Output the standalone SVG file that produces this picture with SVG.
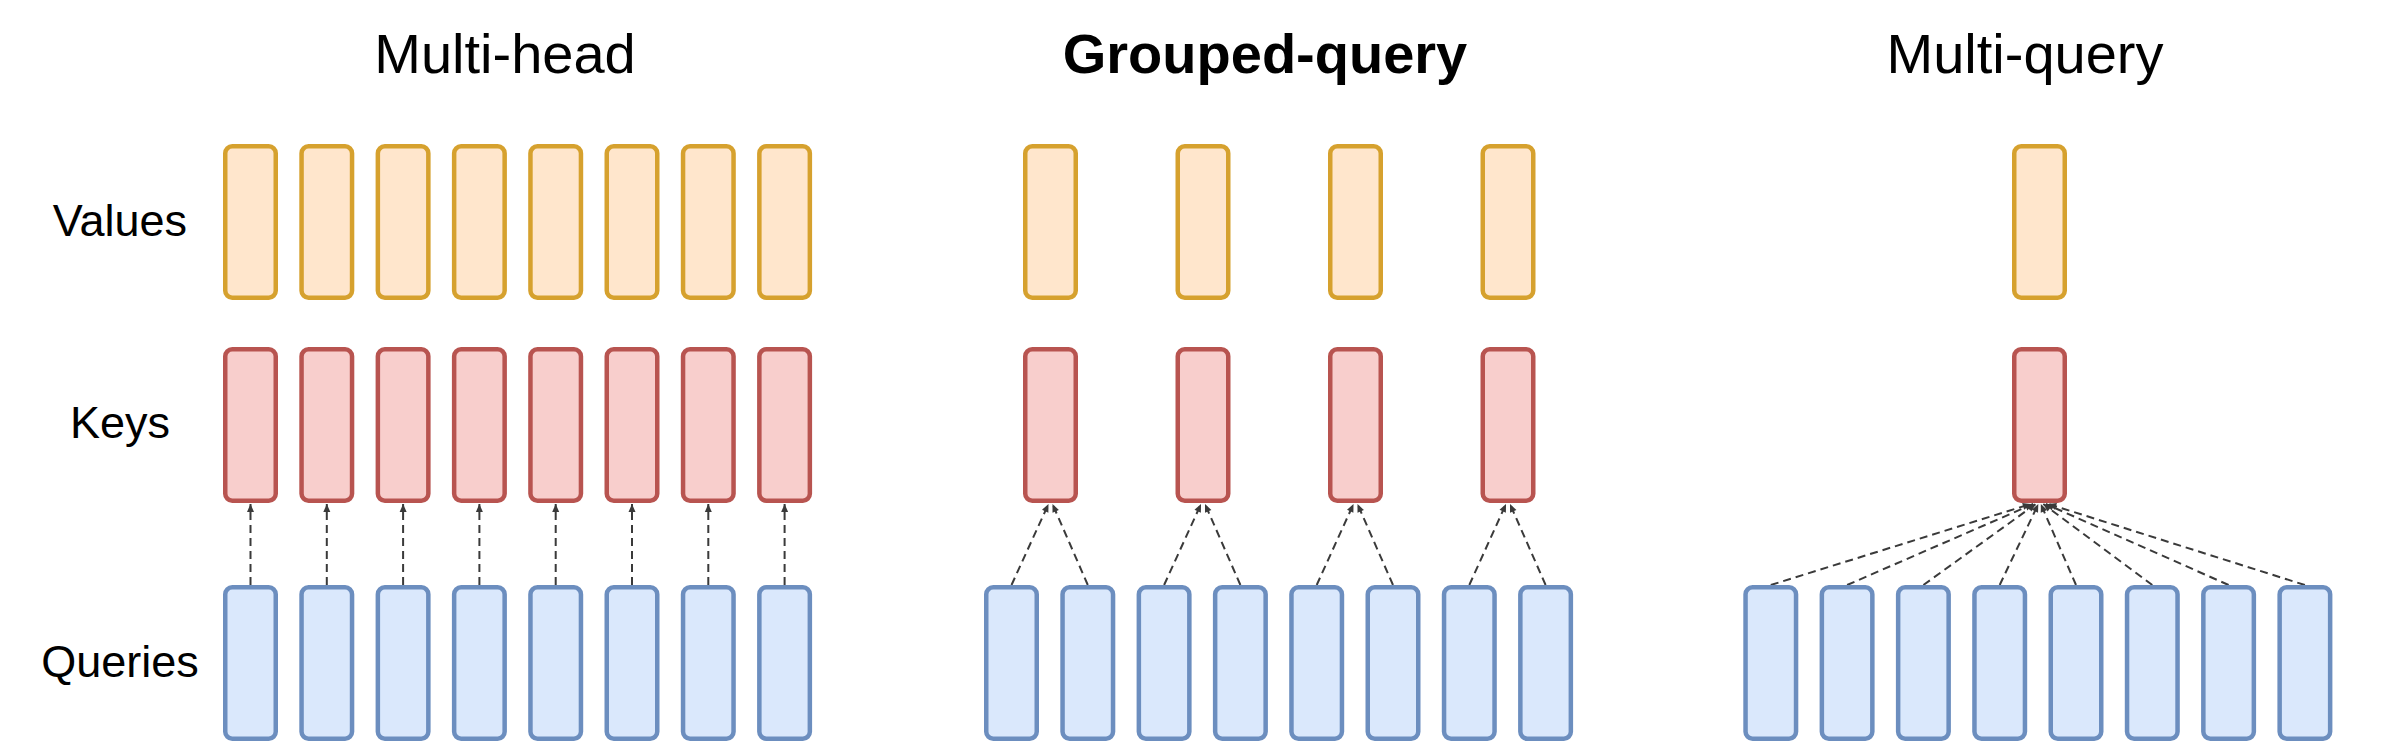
<svg xmlns="http://www.w3.org/2000/svg" width="2384" height="756" viewBox="0 0 2384 756">
<style>
.t{font-family:"Liberation Sans",Arial,sans-serif;font-size:56px;fill:#000;text-anchor:middle}
.b{font-weight:bold}
.l{font-family:"Liberation Sans",Arial,sans-serif;font-size:45px;fill:#000;text-anchor:middle}
.v{fill:#ffe6cc;stroke:#d6a12e;stroke-width:4.5}
.k{fill:#f8cecc;stroke:#b85450;stroke-width:4.5}
.q{fill:#dae8fc;stroke:#6c8ebf;stroke-width:4.5}
.c{fill:none;stroke:#3a3a3a;stroke-width:2;stroke-dasharray:8 5;marker-end:url(#ah)}
</style>
<defs>
<marker id="ah" markerUnits="userSpaceOnUse" markerWidth="10" markerHeight="10" viewBox="0 0 10 10" refX="9" refY="5" orient="auto">
<path d="M1,1.5 L9,5 L1,8.5 Z" fill="#3a3a3a"/>
</marker>
<rect id="box" width="50.5" height="151.5" rx="7" ry="7"/>
</defs>
<rect width="2384" height="756" fill="#fff"/>

<g id="titles">
<text class="t" x="505" y="73">Multi-head</text>
<text class="t b" x="1265" y="73">Grouped-query</text>
<text class="t" x="2025" y="73">Multi-query</text>
</g>
<g id="row-labels">
<text class="l" x="120" y="236">Values</text>
<text class="l" x="120" y="438">Keys</text>
<text class="l" x="120" y="677">Queries</text>
</g>

<g id="connectors">
<!-- multi-head -->
<path class="c" d="M250.5 585 V504"/>
<path class="c" d="M326.8 585 V504"/>
<path class="c" d="M403.1 585 V504"/>
<path class="c" d="M479.4 585 V504"/>
<path class="c" d="M555.7 585 V504"/>
<path class="c" d="M632 585 V504"/>
<path class="c" d="M708.3 585 V504"/>
<path class="c" d="M784.6 585 V504"/>
<!-- grouped-query -->
<path class="c" d="M1011.5 585 L1048.5 504"/>
<path class="c" d="M1087.8 585 L1052.5 504"/>
<path class="c" d="M1164.1 585 L1201 504"/>
<path class="c" d="M1240.4 585 L1205 504"/>
<path class="c" d="M1316.7 585 L1353.5 504"/>
<path class="c" d="M1393 585 L1357.5 504"/>
<path class="c" d="M1469.3 585 L1506 504"/>
<path class="c" d="M1545.6 585 L1510 504"/>
<!-- multi-query -->
<path class="c" d="M1770.8 585 L2030.8 504"/>
<path class="c" d="M1847.1 585 L2033.3 504"/>
<path class="c" d="M1923.4 585 L2035.8 504"/>
<path class="c" d="M1999.7 585 L2038.3 504"/>
<path class="c" d="M2076 585 L2040.8 504"/>
<path class="c" d="M2152.3 585 L2043.3 504"/>
<path class="c" d="M2228.6 585 L2045.8 504"/>
<path class="c" d="M2304.9 585 L2048.3 504"/>
</g>

<g id="multi-head">
<g id="mh-values">
<use href="#box" class="v" x="225.25" y="146.25"/>
<use href="#box" class="v" x="301.55" y="146.25"/>
<use href="#box" class="v" x="377.85" y="146.25"/>
<use href="#box" class="v" x="454.15" y="146.25"/>
<use href="#box" class="v" x="530.45" y="146.25"/>
<use href="#box" class="v" x="606.75" y="146.25"/>
<use href="#box" class="v" x="683.05" y="146.25"/>
<use href="#box" class="v" x="759.35" y="146.25"/>
</g>
<g id="mh-keys">
<use href="#box" class="k" x="225.25" y="349.25"/>
<use href="#box" class="k" x="301.55" y="349.25"/>
<use href="#box" class="k" x="377.85" y="349.25"/>
<use href="#box" class="k" x="454.15" y="349.25"/>
<use href="#box" class="k" x="530.45" y="349.25"/>
<use href="#box" class="k" x="606.75" y="349.25"/>
<use href="#box" class="k" x="683.05" y="349.25"/>
<use href="#box" class="k" x="759.35" y="349.25"/>
</g>
<g id="mh-queries">
<use href="#box" class="q" x="225.25" y="587.25"/>
<use href="#box" class="q" x="301.55" y="587.25"/>
<use href="#box" class="q" x="377.85" y="587.25"/>
<use href="#box" class="q" x="454.15" y="587.25"/>
<use href="#box" class="q" x="530.45" y="587.25"/>
<use href="#box" class="q" x="606.75" y="587.25"/>
<use href="#box" class="q" x="683.05" y="587.25"/>
<use href="#box" class="q" x="759.35" y="587.25"/>
</g>
</g>

<g id="grouped-query">
<g id="gq-values">
<use href="#box" class="v" x="1025.25" y="146.25"/>
<use href="#box" class="v" x="1177.75" y="146.25"/>
<use href="#box" class="v" x="1330.25" y="146.25"/>
<use href="#box" class="v" x="1482.75" y="146.25"/>
</g>
<g id="gq-keys">
<use href="#box" class="k" x="1025.25" y="349.25"/>
<use href="#box" class="k" x="1177.75" y="349.25"/>
<use href="#box" class="k" x="1330.25" y="349.25"/>
<use href="#box" class="k" x="1482.75" y="349.25"/>
</g>
<g id="gq-queries">
<use href="#box" class="q" x="986.25" y="587.25"/>
<use href="#box" class="q" x="1062.55" y="587.25"/>
<use href="#box" class="q" x="1138.85" y="587.25"/>
<use href="#box" class="q" x="1215.15" y="587.25"/>
<use href="#box" class="q" x="1291.45" y="587.25"/>
<use href="#box" class="q" x="1367.75" y="587.25"/>
<use href="#box" class="q" x="1444.05" y="587.25"/>
<use href="#box" class="q" x="1520.35" y="587.25"/>
</g>
</g>

<g id="multi-query">
<g id="mq-values">
<use href="#box" class="v" x="2014.25" y="146.25"/>
</g>
<g id="mq-keys">
<use href="#box" class="k" x="2014.25" y="349.25"/>
</g>
<g id="mq-queries">
<use href="#box" class="q" x="1745.55" y="587.25"/>
<use href="#box" class="q" x="1821.85" y="587.25"/>
<use href="#box" class="q" x="1898.15" y="587.25"/>
<use href="#box" class="q" x="1974.45" y="587.25"/>
<use href="#box" class="q" x="2050.75" y="587.25"/>
<use href="#box" class="q" x="2127.05" y="587.25"/>
<use href="#box" class="q" x="2203.35" y="587.25"/>
<use href="#box" class="q" x="2279.65" y="587.25"/>
</g>
</g>
</svg>
